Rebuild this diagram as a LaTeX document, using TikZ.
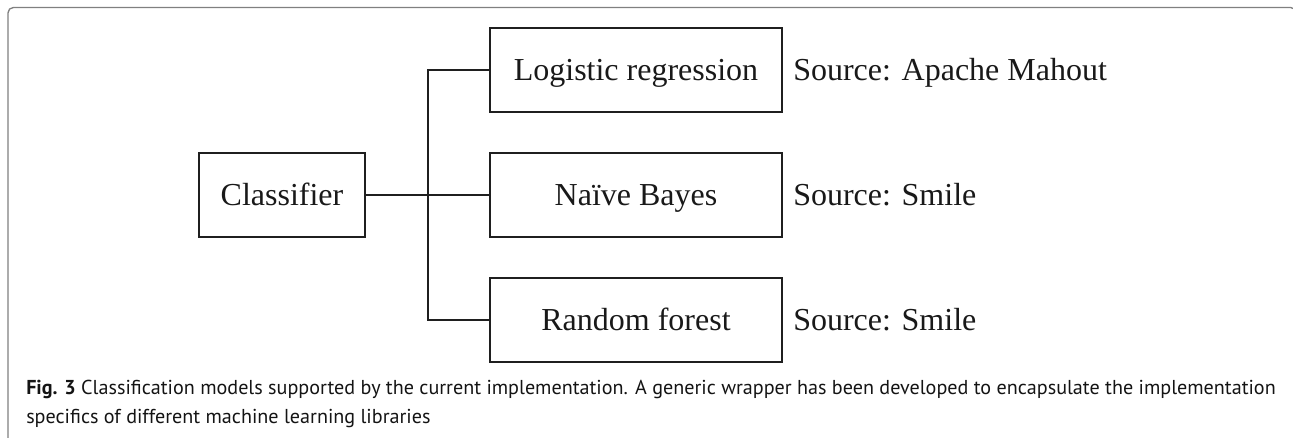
\documentclass[tikz,border=0pt]{standalone}
\usepackage{fontspec}
\setmainfont{Liberation Serif}
\newfontfamily\capfont{PT Sans}
\begin{document}
\begin{tikzpicture}[x=0.75pt,y=-0.75pt,
  box/.style={draw=black!88, line width=2.1pt, minimum width=292*0.75pt, minimum height=84*0.75pt,
    inner sep=0pt, text height=16pt, text depth=0pt, font=\fontsize{24pt}{28pt}\selectfont, text=black!90},
  conn/.style={draw=black!88, line width=2.1pt},
  src/.style={anchor=base west, inner sep=0pt, font=\fontsize{24pt}{28pt}\selectfont, text=black!90},
  captext/.style={anchor=base west, inner sep=0pt, font=\capfont\fontsize{15.1pt}{21pt}\selectfont, text=black!92},
  frame/.style={draw=black!50, line width=1pt, rounded corners=4pt}]
\useasboundingbox (0,0) rectangle (1293,438);
\clip (0,0) rectangle (1293,438);
\draw[frame] (8,460) -- (8,7.5) -- (1296,7.5) -- (1296,460);
% nodes
\node[box, minimum width=166*0.75pt] (cls) at (282,195) {Classifier};
\node[box] (lr) at (636,70) {Logistic regression};
\node[box] (nb) at (636,195) {Naïve Bayes};
\node[box] (rf) at (636,320) {Random forest};
\coordinate (jt) at (428,70);
\coordinate (jb) at (428,320);
\draw[conn] (cls.east) -- (nb.west);
\draw[conn] (lr.west) -- (jt) -- (jb) -- (rf.west);
\node[src] (slr) at (793,81) {Source: Apache Mahout};
\node[src] (snb) at (793,206) {Source: Smile};
\node[src] (srf) at (793,331) {Source: Smile};
\node[captext] (cap1) at (26,395) {\textbf{Fig. 3} Classification models supported by the current implementation. A generic wrapper has been developed to encapsulate the implementation};
\node[captext] (cap2) at (26,423) {specifics of different machine learning libraries};
\end{tikzpicture}
\end{document}
